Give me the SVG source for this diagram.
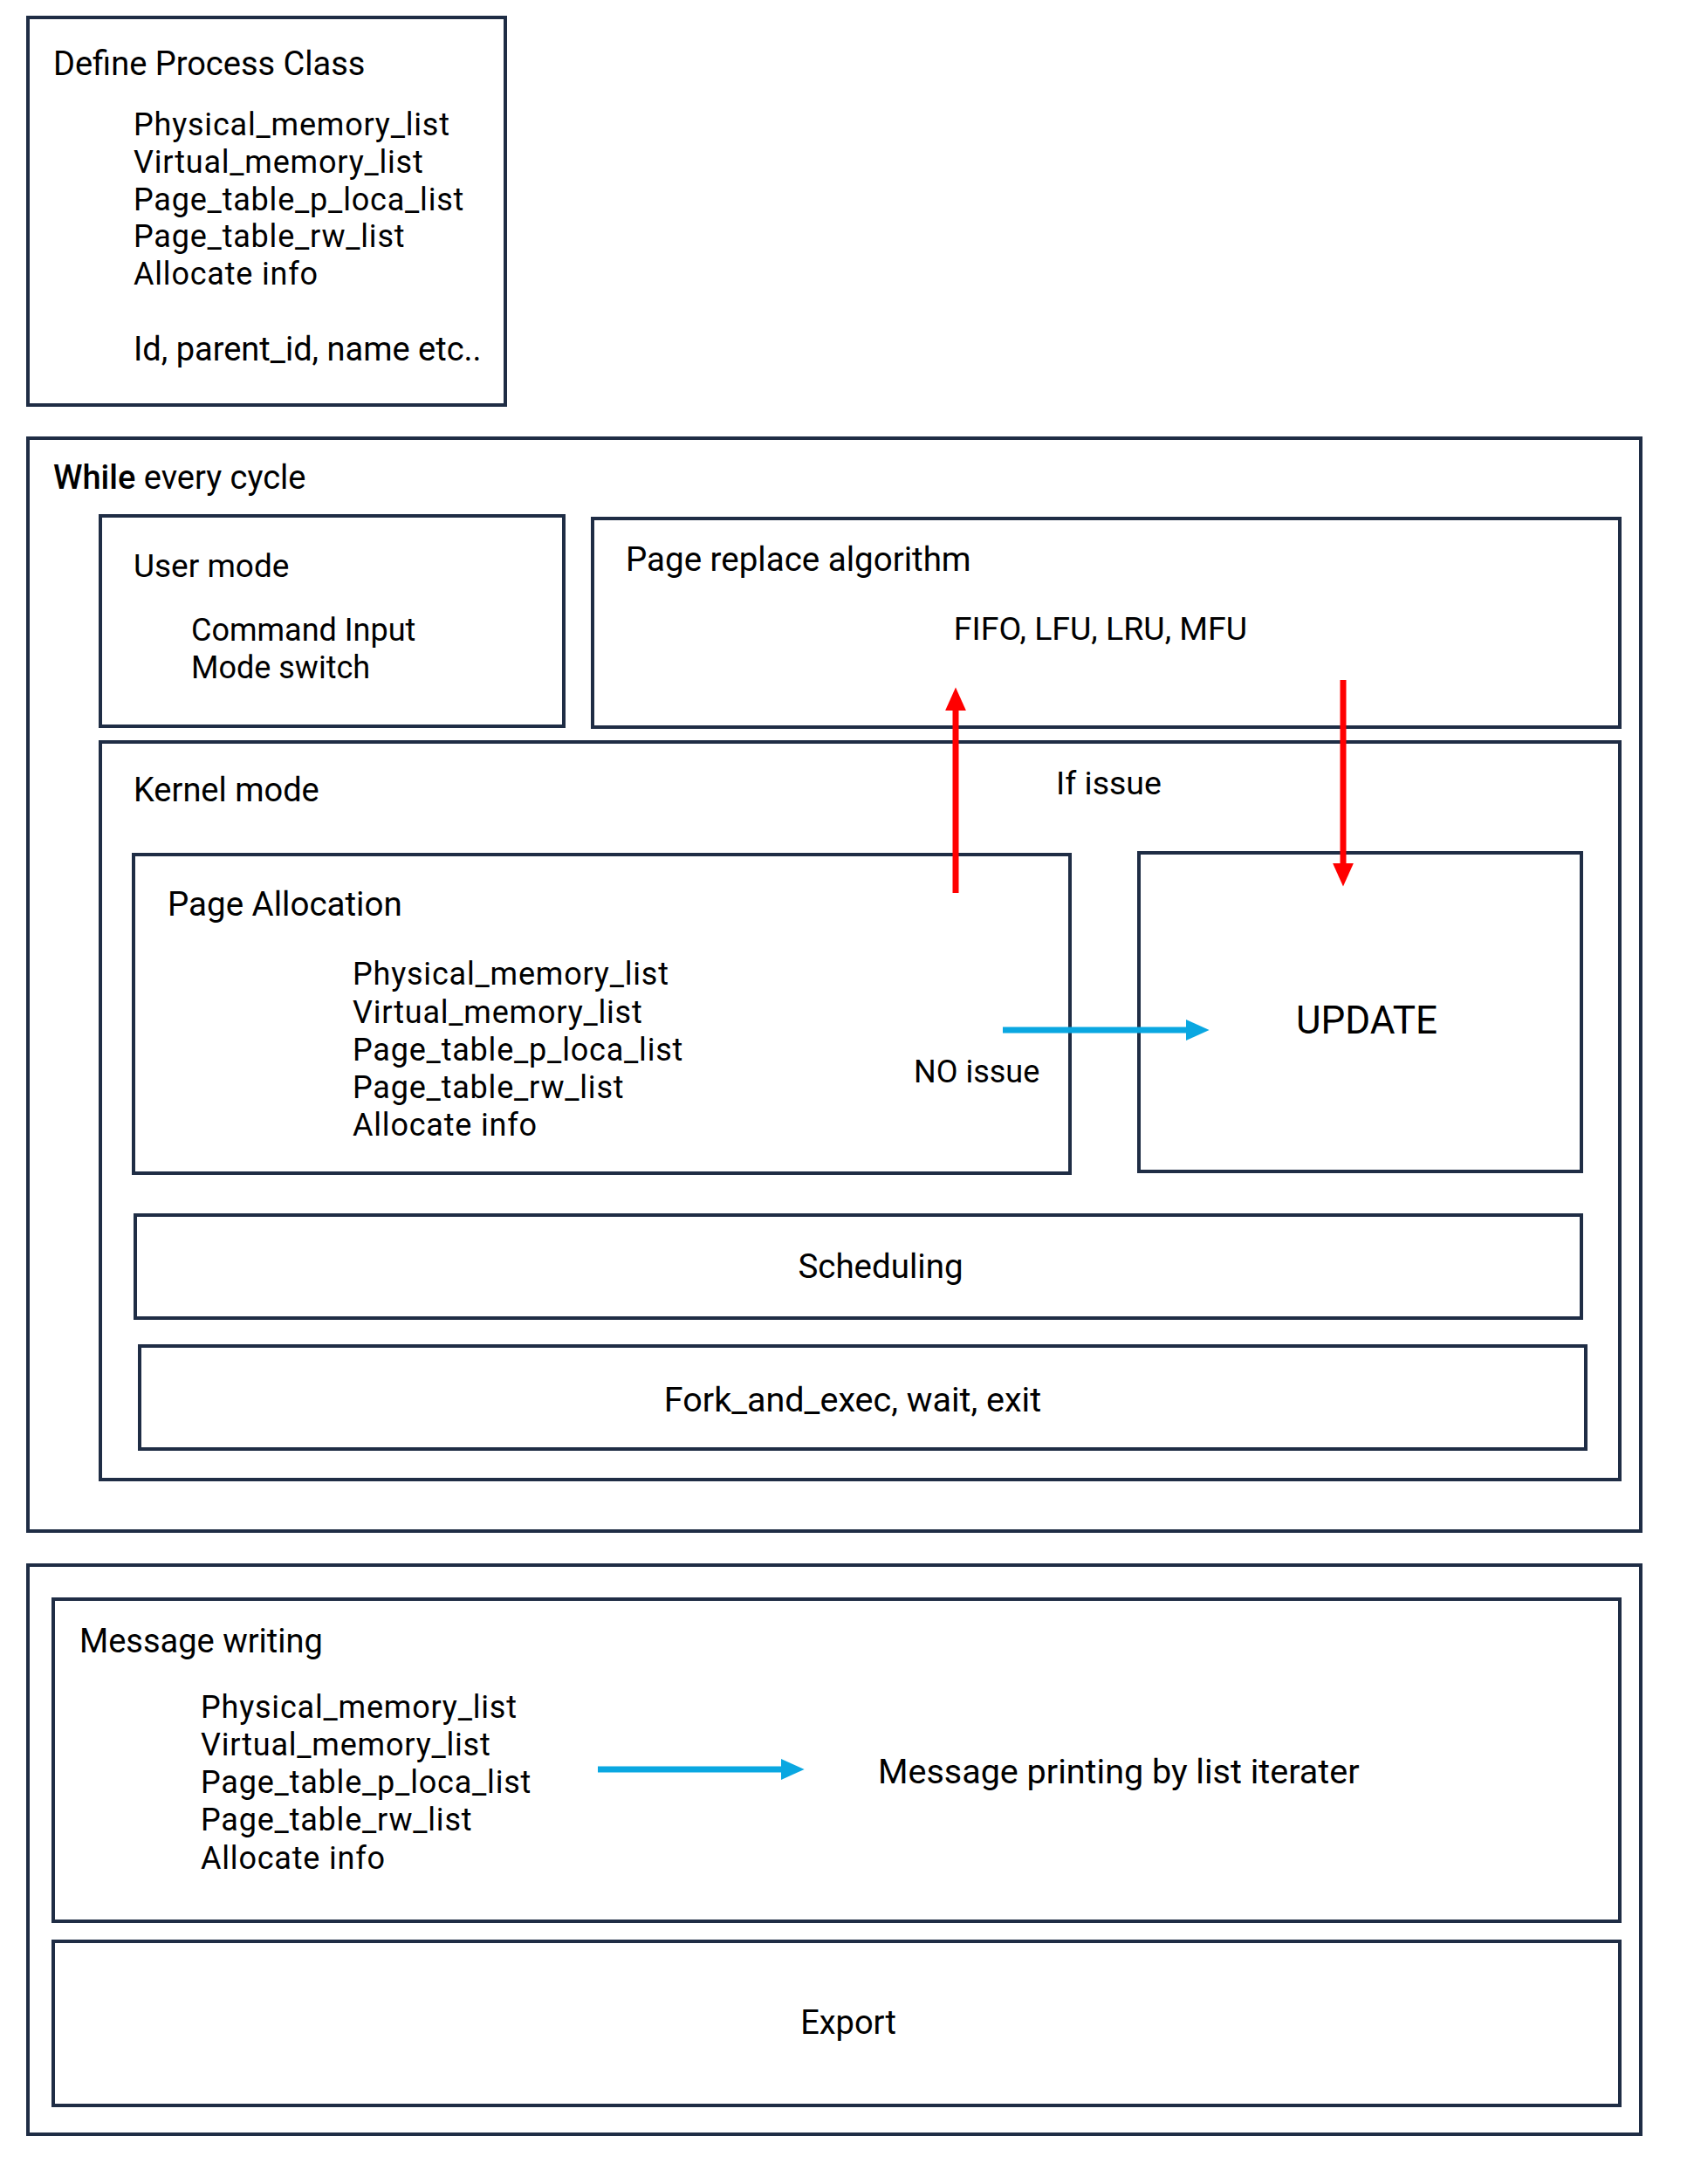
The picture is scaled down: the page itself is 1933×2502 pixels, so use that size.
<svg xmlns="http://www.w3.org/2000/svg" width="1933" height="2502" viewBox="0 0 1933 2502">
<defs>
<style>
.box{fill:none;stroke:#1f2d45;stroke-width:4}
text{font-family:Roboto,"Liberation Sans",sans-serif;font-size:36px;fill:#000}
.t{font-size:38px}
.l{letter-spacing:0.8px}
.c{text-anchor:middle}
.red{stroke:#ff0000;stroke-width:7;fill:none}
.blue{stroke:#0aa7e1;stroke-width:7;fill:none}
</style>
<marker id="hr" markerWidth="4" markerHeight="4" refX="2" refY="2" orient="auto" markerUnits="strokeWidth"><path d="M0,0.3 L3.8,2 L0,3.7 z" fill="#ff0000"/></marker>
<marker id="hb" markerWidth="4" markerHeight="4" refX="2" refY="2" orient="auto" markerUnits="strokeWidth"><path d="M0,0.3 L3.8,2 L0,3.7 z" fill="#0aa7e1"/></marker>
</defs>
<rect width="1933" height="2502" fill="#fff"/>
<g id="define-process-class">
<rect class="box" x="32" y="20" width="547" height="444"/>
<text class="t" x="61" y="86">Define Process Class</text>
<text class="l" x="153" y="155">Physical_memory_list</text>
<text class="l" x="153" y="198">Virtual_memory_list</text>
<text class="l" x="153" y="241">Page_table_p_loca_list</text>
<text class="l" x="153" y="283">Page_table_rw_list</text>
<text class="l" x="153" y="326">Allocate info</text>
<text class="t" x="153" y="413">Id, parent_id, name etc..</text>
</g>
<g id="while-every-cycle">
<rect class="box" x="32" y="502" width="1848" height="1252"/>
<text class="t" x="61" y="560"><tspan style="font-weight:500">While</tspan> every cycle</text>
</g>
<g id="user-mode">
<rect class="box" x="115" y="591" width="531" height="241"/>
<text style="font-size:37px" x="153" y="661">User mode</text>
<text x="219" y="734">Command Input</text>
<text x="219" y="777">Mode switch</text>
</g>
<g id="page-replace-algorithm">
<rect class="box" x="679" y="594" width="1177" height="239"/>
<text style="font-size:38.5px" x="717" y="654">Page replace algorithm</text>
<text class="c" style="font-size:37.5px" x="1261" y="733">FIFO, LFU, LRU, MFU</text>
</g>
<g id="kernel-mode">
<rect class="box" x="115" y="850" width="1741" height="845"/>
<text class="t" x="153" y="918">Kernel mode</text>
<text style="font-size:37.5px" x="1210" y="910">If issue</text>
</g>
<g id="page-allocation">
<rect class="box" x="153" y="979" width="1073" height="365"/>
<text style="font-size:38.5px" x="192" y="1049">Page Allocation</text>
<text class="l" x="404" y="1128">Physical_memory_list</text>
<text class="l" x="404" y="1172">Virtual_memory_list</text>
<text class="l" x="404" y="1215">Page_table_p_loca_list</text>
<text class="l" x="404" y="1258">Page_table_rw_list</text>
<text class="l" x="404" y="1301">Allocate info</text>
<text x="1047" y="1240">NO issue</text>
</g>
<g id="update">
<rect class="box" x="1305" y="977" width="507" height="365"/>
<text class="c" x="1566" y="1184" style="font-size:44px">UPDATE</text>
</g>
<g id="scheduling">
<rect class="box" x="155" y="1392" width="1657" height="118"/>
<text class="c" style="font-size:38.5px" x="1009" y="1464">Scheduling</text>
</g>
<g id="fork-and-exec">
<rect class="box" x="160" y="1542" width="1657" height="118"/>
<text class="c" style="font-size:39.5px" x="977" y="1617">Fork_and_exec, wait, exit</text>
</g>
<g id="output-section">
<rect class="box" x="32" y="1793" width="1848" height="652"/>
</g>
<g id="message-writing">
<rect class="box" x="61" y="1832" width="1795" height="369"/>
<text class="t" x="91" y="1893">Message writing</text>
<text class="l" x="230" y="1968">Physical_memory_list</text>
<text class="l" x="230" y="2011">Virtual_memory_list</text>
<text class="l" x="230" y="2054">Page_table_p_loca_list</text>
<text class="l" x="230" y="2097">Page_table_rw_list</text>
<text class="l" x="230" y="2141">Allocate info</text>
<text style="font-size:39.5px" x="1006" y="2043">Message printing by list iterater</text>
</g>
<g id="export">
<rect class="box" x="61" y="2224" width="1795" height="188"/>
<text class="c" style="font-size:38px" x="972" y="2330">Export</text>
</g>
<g id="connectors">
<line class="red" x1="1095" y1="1023" x2="1095" y2="800" marker-end="url(#hr)"/>
<line class="red" x1="1539" y1="779" x2="1539" y2="1003" marker-end="url(#hr)"/>
<line class="blue" x1="1149" y1="1180" x2="1373" y2="1180" marker-end="url(#hb)"/>
<line class="blue" x1="685" y1="2027" x2="909" y2="2027" marker-end="url(#hb)"/>
</g>
</svg>
